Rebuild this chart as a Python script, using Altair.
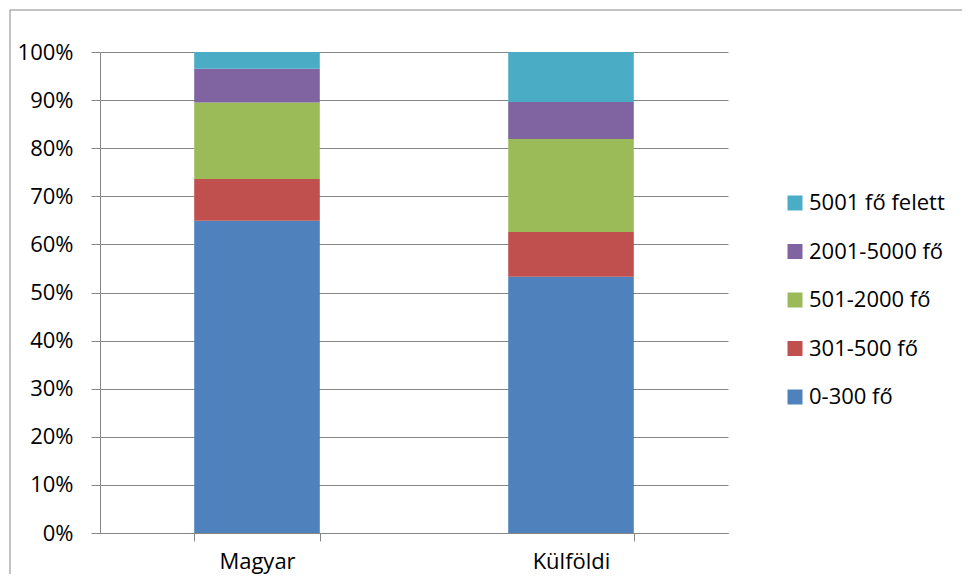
import altair as alt
import pandas as pd

categories = ["Magyar", "Külföldi"]
groups = ["0-300 fő", "301-500 fő", "501-2000 fő", "2001-5000 fő", "5001 fő felett"]
magyar = [64.9, 8.7, 15.9, 7.0, 3.5]
kulfoldi = [53.3, 9.3, 19.3, 7.7, 10.4]
colors = ["#4F81BD", "#C0504D", "#9BBB59", "#8064A2", "#4BACC6"]

rows = []
for cat, vals in zip(categories, [magyar, kulfoldi]):
    for i, (g, v) in enumerate(zip(groups, vals)):
        rows.append({"cat": cat, "group": g, "idx": i, "value": v})
df = pd.DataFrame(rows)

FONT = "Open Sans"
FS = 22
GRAY = "#868686"

bars = alt.Chart(df).mark_bar().encode(
    x=alt.X("cat:N", sort=categories, title=None,
            scale=alt.Scale(paddingInner=0.6, paddingOuter=0.3),
            axis=alt.Axis(labelAngle=0, tickBand="extent", tickSize=8,
                          domainColor=GRAY, tickColor=GRAY, labelPadding=10,
                          labelFont=FONT, labelFontSize=FS, labelColor="#000000",
                          grid=False)),
    y=alt.Y("value:Q", stack="normalize", title=None,
            scale=alt.Scale(domain=[0, 1]),
            axis=alt.Axis(format=".0%", values=[i / 10 for i in range(11)],
                          tickSize=9, labelPadding=18, domainColor=GRAY,
                          tickColor=GRAY, gridColor=GRAY, gridWidth=1,
                          labelFont=FONT, labelFontSize=FS, labelColor="#000000")),
    color=alt.Color("group:N",
                    scale=alt.Scale(domain=groups[::-1], range=colors[::-1]),
                    legend=alt.Legend(title=None, orient="none", legendX=684, legendY=140,
                                      symbolType="square", symbolSize=225,
                                      symbolStrokeWidth=0, labelFont=FONT,
                                      labelFontSize=FS, labelColor="#000000",
                                      rowPadding=26.5, labelOffset=3, padding=0)),
    order=alt.Order("idx:Q", sort="ascending"),
)

border = alt.Chart(pd.DataFrame({"a": [0]})).mark_rect(
    fill=None, stroke=GRAY, strokeWidth=1, clip=False
).encode(x=alt.value(-90), x2=alt.value(868), y=alt.value(-42), y2=alt.value(560))

chart = alt.layer(border, bars).properties(
    width=628, height=481,
    autosize=alt.AutoSizeParams(type="none"),
    padding={"left": 92, "top": 44, "right": 234, "bottom": 41},
).configure_view(stroke=None)

chart.save("out.html", embed_options={"renderer": "svg", "actions": False})
